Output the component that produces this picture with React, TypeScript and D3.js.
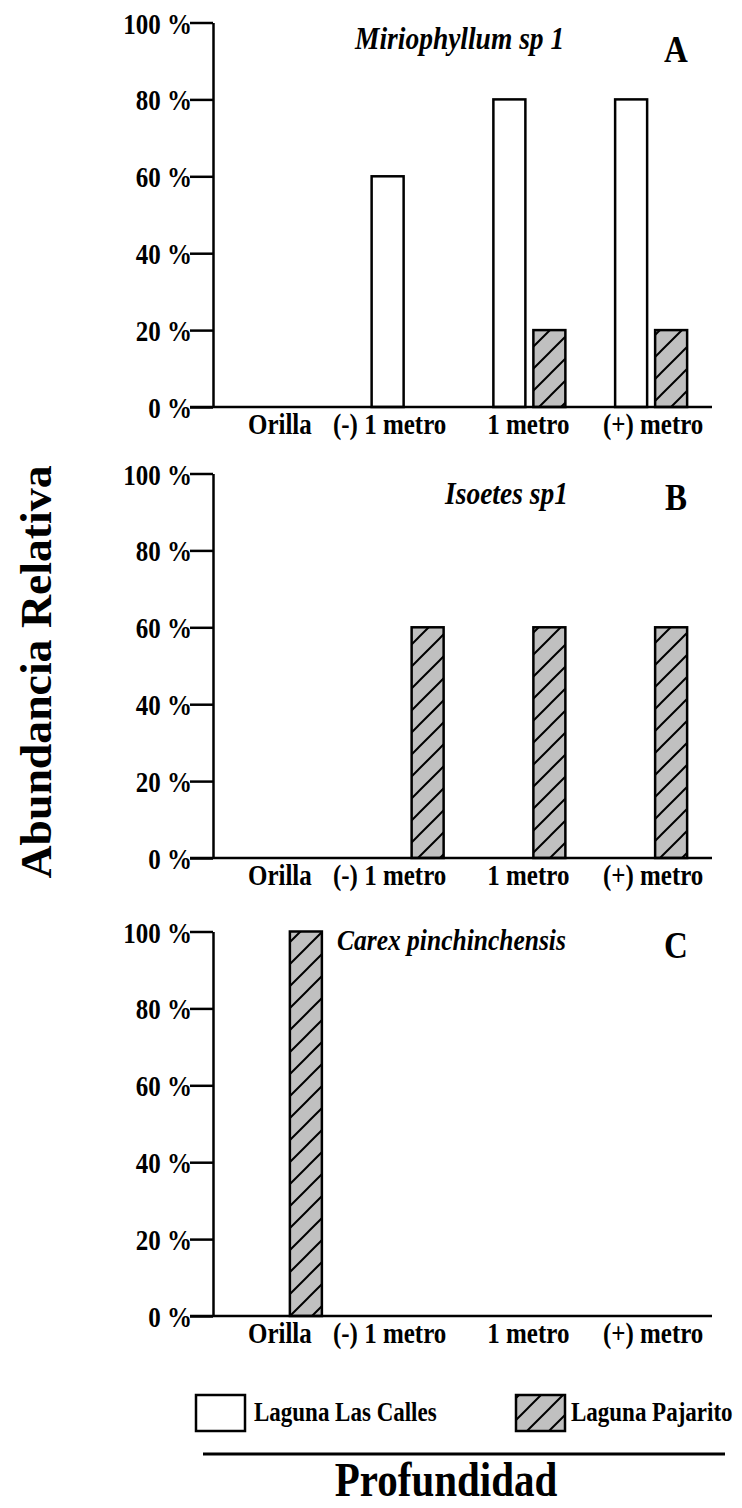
import React, { useEffect, useRef } from "react";
import * as d3 from "d3";

// data
const categories = ["Orilla", "(-) 1 metro", "1 metro", "(+) metro"];
const seriesNames = ["Laguna Las Calles", "Laguna Pajarito"];
const yTicks = [0, 20, 40, 60, 80, 100];

const panelTitles = ["Miriophyllum sp 1", "Isoetes sp1", "Carex pinchinchensis"];
const panelLetters = ["A", "B", "C"];

const miriophyllumCalles = [0, 60, 80, 80];
const miriophyllumPajarito = [0, 0, 20, 20];
const isoetesCalles = [0, 0, 0, 0];
const isoetesPajarito = [0, 60, 60, 60];
const carexCalles = [0, 0, 0, 0];
const carexPajarito = [100, 0, 0, 0];

const panelValues = [
  [miriophyllumCalles, miriophyllumPajarito],
  [isoetesCalles, isoetesPajarito],
  [carexCalles, carexPajarito],
];

const FONT = "'Liberation Serif', 'Times New Roman', serif";
const STRETCH = 1.17; // the original type looks taller than it is wide

export default function App() {
  const ref = useRef<SVGSVGElement>(null);

  useEffect(() => {
    const width = 742,
      height = 1508;
    const svg = d3.select(ref.current);
    svg.selectAll("*").remove();
    svg.attr("width", width).attr("height", height);

    // put a bold, vertically stretched label at x,y (baseline)
    const label = (sel: any, x: number, y: number, size: number, txt: string, anchor = "start") =>
      sel
        .append("text")
        .attr("transform", "translate(" + x + "," + y + ") scale(1," + STRETCH + ")")
        .attr("text-anchor", anchor)
        .attr("font-family", FONT)
        .attr("font-weight", "bold")
        .attr("font-size", size)
        .attr("fill", "#000")
        .text(txt);

    // hatch pattern
    const defs = svg.append("defs");
    const pat = defs
      .append("pattern")
      .attr("id", "hatch")
      .attr("patternUnits", "userSpaceOnUse")
      .attr("width", 22)
      .attr("height", 22);
    pat.append("rect").attr("width", 22).attr("height", 22).attr("fill", "#c0c0c0");
    pat
      .append("path")
      .attr("d", "M0,22 L22,0 M-6,6 L6,-6 M16,28 L28,16")
      .attr("stroke", "#000")
      .attr("stroke-width", 2);

    const fills = ["#fff", "url(#hatch)"];

    const axisX = 213,
      tickLen = 23,
      xEnd = 712;
    const panelTops = [22.5, 473.5, 931.5];
    const panelH = 384.5;
    const titleX = [355, 445, 337];
    const titleDy = [26, 30, 18];
    const titleSize = [27.5, 27.5, 25.5];
    const letterDy = [39, 36, 26];
    const labelDx = [-6, -18, -1, 2];

    const x0 = d3.scaleBand().domain(categories).range([225, xEnd]).padding(0);
    const x1 = d3.scaleBand().domain(seriesNames).range([-36, 36]).paddingInner(0.2);

    panelValues.forEach((vals, p) => {
      const top = panelTops[p];
      const y = d3.scaleLinear().domain([0, 100]).range([top + panelH, top]);
      const g = svg.append("g");

      // bars
      vals.forEach((arr, s) => {
        g.selectAll(null)
          .data(arr.map((v, i) => ({ v, c: categories[i] })).filter((d) => d.v > 0))
          .enter()
          .append("rect")
          .attr("x", (d) => x0(d.c)! + x0.bandwidth() / 2 + x1(seriesNames[s])!)
          .attr("y", (d) => y(d.v))
          .attr("width", x1.bandwidth())
          .attr("height", (d) => y(0) - y(d.v))
          .attr("fill", fills[s])
          .attr("stroke", "#000")
          .attr("stroke-width", 2.5);
      });

      // y axis
      const ax = g
        .append("g")
        .attr("transform", "translate(" + axisX + ",0)")
        .call(
          d3
            .axisLeft(y)
            .tickValues(yTicks)
            .tickSize(tickLen)
            .tickSizeOuter(0)
            .tickPadding(-2)
            .tickFormat((d) => d + " %")
        );
      ax.select(".domain").attr("stroke", "#000").attr("stroke-width", 2.5);
      ax.selectAll(".tick line").attr("stroke", "#000").attr("stroke-width", 2.5);
      ax.selectAll(".tick text")
        .attr("font-family", FONT)
        .attr("font-weight", "bold")
        .attr("font-size", 25)
        .attr("fill", "#000")
        .attr("dy", "0.36em")
        .attr("transform", "scale(1," + STRETCH + ")");

      // x axis line
      g.append("line")
        .attr("x1", axisX - tickLen)
        .attr("x2", xEnd)
        .attr("y1", y(0))
        .attr("y2", y(0))
        .attr("stroke", "#000")
        .attr("stroke-width", 2.5);

      categories.forEach((c, i) =>
        label(g, x0(c)! + x0.bandwidth() / 2 + labelDx[i], y(0) + 27, 25, c, "middle")
      );

      label(g, titleX[p], top + titleDy[p], titleSize[p], panelTitles[p]).attr("font-style", "italic");
      label(g, 676, top + letterDy[p], 33, panelLetters[p], "middle");
    });

    // y title
    svg
      .append("text")
      .attr("transform", "translate(51,672) rotate(-90) scale(1.04,1)")
      .attr("text-anchor", "middle")
      .attr("font-family", FONT)
      .attr("font-weight", "bold")
      .attr("font-size", 44)
      .text("Abundancia Relativa");

    // legend
    const legX = [196, 516];
    seriesNames.forEach((s, i) => {
      svg
        .append("rect")
        .attr("x", legX[i])
        .attr("y", 1395)
        .attr("width", 49)
        .attr("height", 36)
        .attr("fill", fills[i])
        .attr("stroke", "#000")
        .attr("stroke-width", 2.5);
      label(svg, legX[i] + (i === 0 ? 58 : 55), 1421, 23, s);
    });

    svg
      .append("line")
      .attr("x1", 203)
      .attr("x2", 725)
      .attr("y1", 1454)
      .attr("y2", 1454)
      .attr("stroke", "#000")
      .attr("stroke-width", 3);

    label(svg, 446, 1496, 41, "Profundidad", "middle");
  }, []);

  return <svg ref={ref} style={{ position: "absolute", left: 0, top: 0, display: "block" }} />;
}
